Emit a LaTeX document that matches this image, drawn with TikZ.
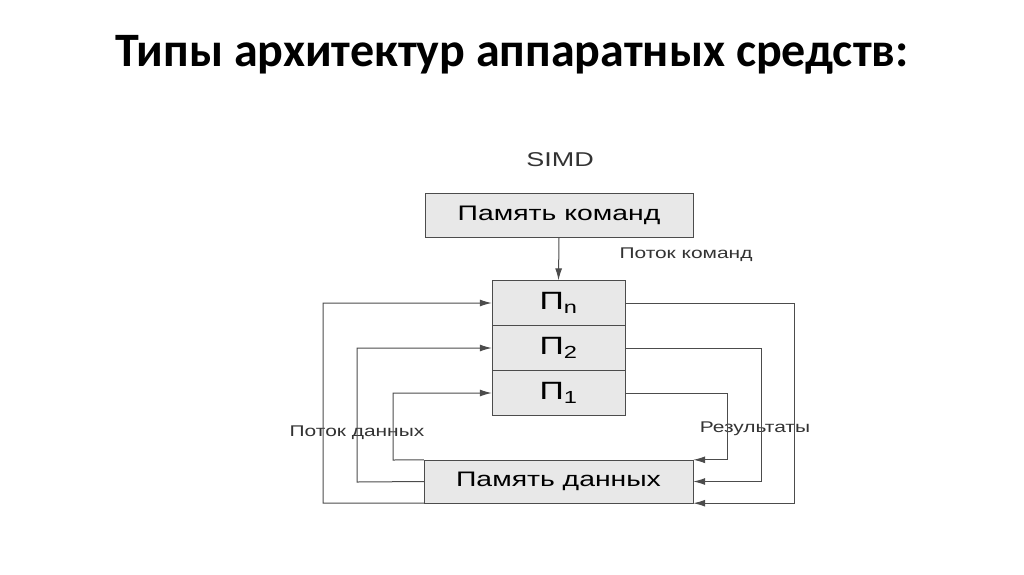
\documentclass[tikz,border=0pt]{standalone}
\usepackage{fontspec}
\setmainfont{Liberation Sans}
\newfontfamily\diag[FakeStretch=1.35]{Liberation Sans}
\newfontfamily\titlefont{Carlito}
\usetikzlibrary{arrows.meta}
\begin{document}
\begin{tikzpicture}[x=1pt,y=-1pt,
  bx/.style={draw=black!70,fill=black!9,minimum height=44pt,font=\diag\fontsize{21}{23}\selectfont,inner sep=0pt},
  px/.style={bx,font=\diag\fontsize{25}{27}\selectfont},
  ln/.style={draw=black!70,line width=1pt},
  ar/.style={ln,-{Latex[length=12pt,width=7pt]}},
  lbl/.style={font=\diag\fontsize{15.5}{17}\selectfont,text=black!80}]
\useasboundingbox (0,0) rectangle (1024,574);
\node[font=\titlefont\bfseries\fontsize{48}{54}\selectfont] (title) at (512,55) {Типы архитектур аппаратных средств:};
\node[lbl,font=\diag\fontsize{20}{22}\selectfont] (simd) at (560,160) {SIMD};
\node[bx,minimum width=268pt] (pk) at (559,215) {Память команд};
\node[px,minimum width=133pt,minimum height=45pt] (pn) at (558.5,303) {П\textsubscript{n}};
\node[px,minimum width=133pt,minimum height=45pt] (p2) at (558.5,348) {П\textsubscript{2}};
\node[px,minimum width=133pt,minimum height=45pt] (p1) at (558.5,393) {П\textsubscript{1}};
\node[bx,minimum width=269pt,minimum height=43pt] (pd) at (558.5,481.5) {Память данных};
\node[lbl] (pk2) at (686,255) {Поток команд};
\node[lbl] (pdl) at (357,433) {Поток данных};
\node[lbl] (res) at (755,429) {Результаты};
\draw[ar] (pk.south) -- (pn.north);
\coordinate (a1) at (393,460);
\draw[ar] (pd.north west) -- (a1) |- (p1.west);
\draw[ar] (pd.west) -- (357,482) |- (p2.west);
\draw[ar] (pd.south west) -- (323,503) |- (pn.west);
\draw[ar] (p1.east) -- (727,393) |- (pd.north east);
\draw[ar] (p2.east) -- (761,348) |- (pd.east);
\draw[ar] (pn.east) -- (794,303) |- (pd.south east);
\end{tikzpicture}
\end{document}
